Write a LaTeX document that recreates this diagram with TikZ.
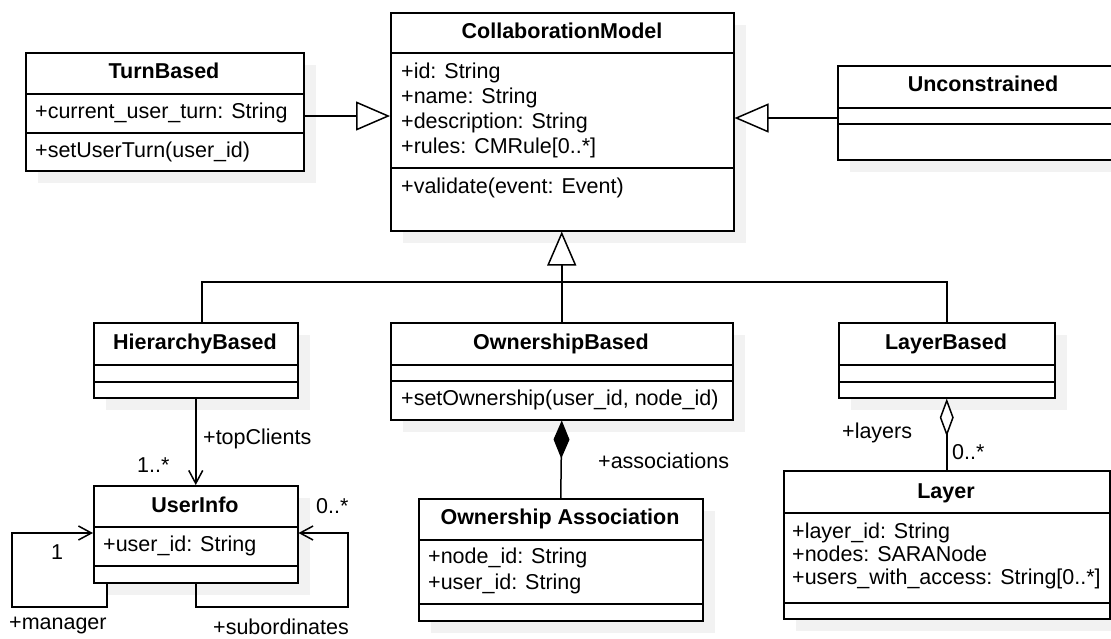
\documentclass[tikz,border=0pt]{standalone}
\usepackage{fontspec}
\setmainfont{Liberation Sans}
\usetikzlibrary{arrows.meta,shadows}

\tikzset{
  umlbox/.style={draw, line width=1.5pt, fill=white, rectangle, inner sep=0pt,
    anchor=north west,
    drop shadow={shadow xshift=12pt, shadow yshift=-12pt, fill=black!5, opacity=1}},
  sepline/.style={line width=1.5pt},
  classtitle/.style={font=\fontsize{21.5}{26}\selectfont\bfseries, inner sep=0pt,
    text height=1.5ex, text depth=.25ex, yshift=-2pt},
  member/.style={font=\fontsize{21.5}{26}\selectfont, inner sep=0pt, anchor=west,
    text height=1.5ex, text depth=.25ex, yshift=-2pt},
  lbl/.style={member},
  conn/.style={line width=1.5pt},
  gen/.style={conn, -{Triangle[length=34pt,width=29pt,fill=white,line width=1.5pt]}},
  assoc/.style={conn, -{Straight Barb[length=13pt,width=14pt,line width=1.5pt]}},
  compo/.style={conn, {Diamond[length=38pt,width=16pt,line width=1.2pt]}-},
  aggr/.style={conn, {Diamond[length=38pt,width=14pt,fill=white,line width=1.5pt]}-},
}

\begin{document}
\begin{tikzpicture}[x=1pt,y=-1pt]
\useasboundingbox (0,0) rectangle (1111,638);
\clip (0,0) rectangle (1111,638);
\fill[white] (0,0) rectangle (1111,638);

% ---- class boxes ----
\node[umlbox, minimum width=278pt, minimum height=118pt] (tb) at (25,52) {};
\node[umlbox, minimum width=343pt, minimum height=218pt] (cm) at (390,12) {};
\node[umlbox, minimum width=292pt, minimum height=94pt]  (un) at (837,65) {};
\node[umlbox, minimum width=204pt, minimum height=75pt]  (hb) at (93,322) {};
\node[umlbox, minimum width=342pt, minimum height=97pt]  (ob) at (390,322) {};
\node[umlbox, minimum width=216pt, minimum height=75pt]  (lb) at (838,322) {};
\node[umlbox, minimum width=204pt, minimum height=97pt]  (ui) at (93,485) {};
\node[umlbox, minimum width=284pt, minimum height=122pt] (oa) at (418,498) {};
\node[umlbox, minimum width=326pt, minimum height=148pt] (ly) at (783,470) {};

% ---- compartment separators ----
\draw[sepline] (25,94) -- (303,94) (25,133) -- (303,133);
\draw[sepline] (390,53) -- (733,53) (390,168) -- (733,168);
\draw[sepline] (837,108) -- (1129,108) (837,124) -- (1129,124);
\draw[sepline] (93,365) -- (297,365) (93,382) -- (297,382);
\draw[sepline] (390,365) -- (732,365) (390,381) -- (732,381);
\draw[sepline] (838,365) -- (1054,365) (838,382) -- (1054,382);
\draw[sepline] (93,527) -- (297,527) (93,566) -- (297,566);
\draw[sepline] (418,540) -- (702,540) (418,604) -- (702,604);
\draw[sepline] (783,513) -- (1109,513) (783,603) -- (1109,603);

% ---- class names ----
\node[classtitle] (tbT) at (164,73) {TurnBased};
\node[classtitle] (cmT) at (562,33) {CollaborationModel};
\node[classtitle] (unT) at (983,86) {Unconstrained};
\node[classtitle] (hbT) at (195,344) {HierarchyBased};
\node[classtitle] (obT) at (561,344) {OwnershipBased};
\node[classtitle] (lbT) at (946,344) {LayerBased};
\node[classtitle] (uiT) at (195,507) {UserInfo};
\node[classtitle] (oaT) at (560,519) {Ownership Association};
\node[classtitle] (lyT) at (946,493) {Layer};

% ---- members ----
\node[member] (tb1) at (35,113) {+current\_user\_turn: String};
\node[member] (tb2) at (35,152) {+setUserTurn(user\_id)};
\node[member] (cm1) at (401,73) {+id: String};
\node[member] (cm2) at (401,98) {+name: String};
\node[member] (cm3) at (401,123) {+description: String};
\node[member] (cm4) at (401,148) {+rules: CMRule[0..*]};
\node[member] (cm5) at (401,188) {+validate(event: Event)};
\node[member] (ob1) at (401,400) {+setOwnership(user\_id, node\_id)};
\node[member] (ui1) at (103,546) {+user\_id: String};
\node[member] (oa1) at (428,558) {+node\_id: String};
\node[member] (oa2) at (428,584) {+user\_id: String};
\node[member] (ly1) at (792,533) {+layer\_id: String};
\node[member] (ly2) at (792,556) {+nodes: SARANode};
\node[member] (ly3) at (792,579) {+users\_with\_access: String[0..*]};

% ---- helper coordinates ----
\coordinate (tbY) at (0,116);
\coordinate (unY) at (0,118);
\coordinate (busY) at (0,282);
\coordinate (hbTop) at (202,322);
\coordinate (loopY) at (0,533);
\coordinate (mgrCorner) at (12,607);
\coordinate (subCorner) at (348,607);

% ---- generalizations ----
\draw[gen] (tb.east |- tbY) -- (cm.west |- tbY);
\draw[gen] (un.west |- unY) -- (cm.east |- unY);
\draw[gen] (ob.north) -- (ob.north |- cm.south);
\draw[conn] (hbTop) -- (hbTop |- busY) -- (lb.north |- busY) -- (lb.north);

% ---- associations ----
\draw[assoc] (hb.south) -- (ui.north);
\node[lbl] (lTop) at (203,439) {+topClients};
\node[lbl] (mTop) at (137,467) {1..*};

\draw[assoc] ([xshift=14pt]ui.south west) |- (mgrCorner) |- (ui.west |- loopY);
\node[lbl] (mMgr) at (51,554) {1};
\node[lbl] (lMgr) at (9,624) {+manager};

\draw[assoc] (ui.south) |- (subCorner) |- (ui.east |- loopY);
\node[lbl] (mSub) at (316,508) {0..*};
\node[lbl] (lSub) at (213,629) {+subordinates};

% ---- composition / aggregation ----
\draw[compo] (ob.south) -- (oa.north);
\node[lbl] (lAsc) at (598,463) {+associations};

\draw[aggr] (lb.south) -- (lb.south |- ly.north);
\node[lbl] (lLay) at (842,433) {+layers};
\node[lbl] (mLay) at (952,454) {0..*};
\end{tikzpicture}
\end{document}
